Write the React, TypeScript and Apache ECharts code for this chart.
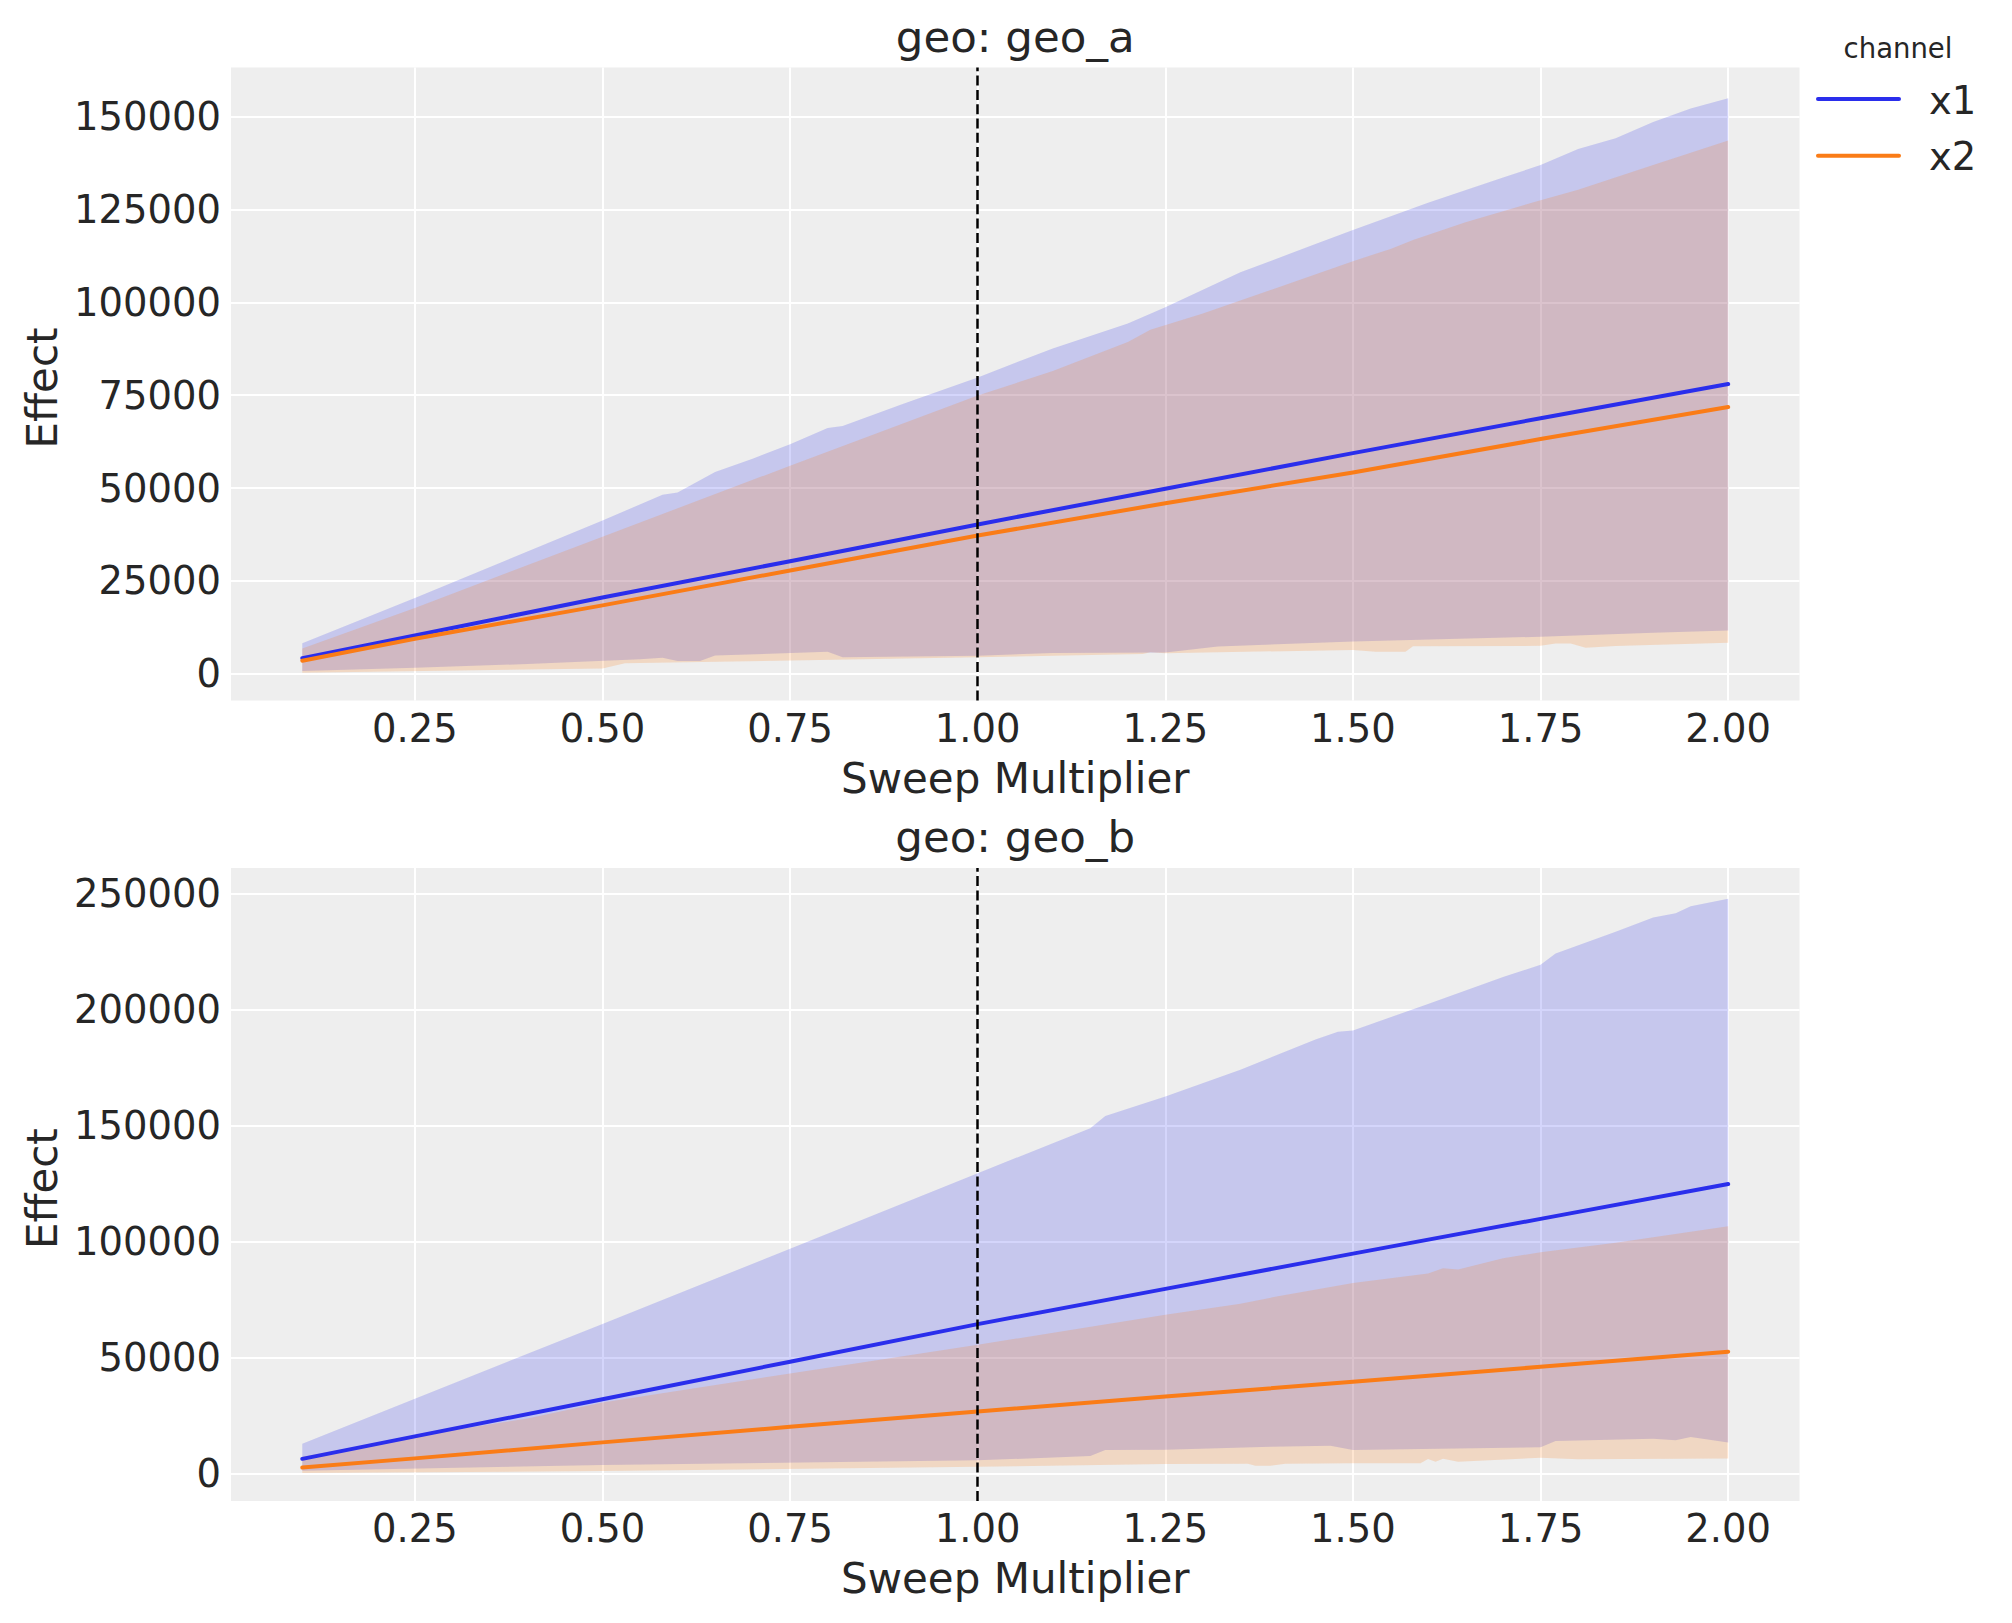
import React, { useEffect, useRef } from "react";
import * as echarts from "echarts";

// ---------- data ----------
const GEOS = ["geo_a", "geo_b"];
const CHANNELS = ["x1", "x2"];
const X_TICKS = [0.25, 0.5, 0.75, 1.0, 1.25, 1.5, 1.75, 2.0];
const Y_TICKS_A = [0, 25000, 50000, 75000, 100000, 125000, 150000];
const Y_TICKS_B = [0, 50000, 100000, 150000, 200000, 250000];
const REFERENCE_MULTIPLIER = 1.0;
const X_RANGE = [0.005, 2.095];
const Y_RANGE_A = [-7220, 163280];
const Y_RANGE_B = [-11780, 261210];

// geo_a
const geoA_x1_mean = [[0.1, 4200], [0.25, 10300], [0.5, 20500], [0.75, 30300], [1.0, 40200], [1.25, 49800], [1.5, 59400], [1.75, 68800], [2.0, 78000]];
const geoA_x2_mean = [[0.1, 3500], [0.25, 9400], [0.5, 18400], [0.75, 27800], [1.0, 37200], [1.25, 45900], [1.5, 54200], [1.75, 63200], [2.0, 71800]];
const geoA_x1_upper = [[0.1, 8200], [0.25, 20400], [0.5, 41250], [0.58, 48200], [0.6, 48800], [0.65, 54300], [0.7, 57900], [0.75, 61800], [0.8, 66200], [0.82, 66700], [0.9, 72600], [1.0, 79800], [1.1, 87600], [1.2, 94300], [1.25, 98700], [1.35, 108100], [1.45, 115700], [1.5, 119500], [1.6, 126800], [1.7, 133600], [1.75, 137000], [1.8, 141300], [1.85, 144200], [1.9, 148600], [1.95, 152200], [2.0, 155000]];
const geoA_x1_lower = [[0.1, 720], [0.25, 1600], [0.4, 2600], [0.55, 3900], [0.58, 4300], [0.6, 3400], [0.63, 3400], [0.65, 4900], [0.8, 5900], [0.82, 4400], [1.0, 4800], [1.1, 5600], [1.25, 5700], [1.32, 7300], [1.5, 8700], [1.75, 9950], [1.9, 11000], [2.0, 11600]];
const geoA_x2_upper = [[0.1, 6800], [0.25, 17700], [0.5, 36900], [0.75, 56000], [1.0, 74900], [1.1, 81500], [1.2, 89300], [1.23, 92600], [1.3, 97000], [1.4, 104000], [1.5, 111100], [1.55, 114400], [1.58, 116800], [1.65, 121600], [1.75, 127500], [1.8, 130300], [1.9, 137000], [2.0, 143600]];
const geoA_x2_lower = [[0.1, 270], [0.5, 1430], [0.53, 2800], [1.0, 4400], [1.22, 5300], [1.23, 5800], [1.25, 5500], [1.5, 6400], [1.53, 5900], [1.57, 5900], [1.58, 7400], [1.75, 7500], [1.77, 8150], [1.79, 8150], [1.81, 7000], [1.85, 7450], [2.0, 8300]];

// geo_b
const geoB_x1_mean = [[0.1, 6400], [0.25, 16100], [0.5, 32100], [0.75, 48300], [1.0, 64500], [1.25, 79700], [1.5, 94900], [1.75, 109900], [2.0, 124900]];
const geoB_x2_mean = [[0.1, 2660], [0.25, 6600], [0.5, 13500], [0.75, 20200], [1.0, 26800], [1.25, 33300], [1.5, 39600], [1.75, 46100], [2.0, 52600]];
const geoB_x1_upper = [[0.1, 12960], [0.25, 32300], [0.5, 64600], [0.75, 97000], [1.0, 129600], [1.15, 149000], [1.17, 154300], [1.25, 162700], [1.35, 174200], [1.45, 187200], [1.48, 190600], [1.5, 191100], [1.6, 202600], [1.7, 214200], [1.75, 219500], [1.77, 224300], [1.85, 233700], [1.9, 239900], [1.93, 241700], [1.95, 244700], [2.0, 247900]];
const geoB_x1_lower = [[0.1, 1290], [0.5, 3700], [1.0, 5750], [1.15, 7600], [1.17, 10200], [1.25, 10350], [1.39, 11650], [1.47, 12100], [1.5, 10200], [1.75, 11360], [1.77, 14100], [1.9, 15100], [1.93, 14400], [1.95, 15800], [2.0, 13500]];
const geoB_x2_upper = [[0.1, 7300], [0.25, 16200], [0.4, 23800], [0.5, 30700], [0.75, 43200], [1.0, 55600], [1.25, 68500], [1.35, 73300], [1.4, 76500], [1.5, 82200], [1.6, 86300], [1.62, 88600], [1.64, 88100], [1.7, 92900], [1.75, 95500], [1.85, 99600], [2.0, 106700]];
const geoB_x2_lower = [[0.1, 290], [0.5, 1150], [1.0, 3000], [1.25, 4170], [1.36, 4300], [1.37, 3450], [1.39, 3450], [1.41, 4300], [1.5, 4460], [1.59, 4460], [1.6, 6300], [1.61, 5200], [1.62, 6450], [1.64, 5200], [1.75, 6900], [1.8, 6200], [2.0, 6600]];

// ---------- style ----------
const FONT = "DejaVu Sans";
const TEXT = "#262626";
const COLORS = ["#2a2eec", "#fa7c17"];
const BAND_COLORS = ["rgba(42,46,236,0.2)", "rgba(250,124,23,0.2)"];
const PLOT_BG = "#eeeeee";

const GRIDS = [
  { left: 231, top: 67.4, width: 1568.5, height: 633.1 },
  { left: 231, top: 868.0, width: 1568.5, height: 633.0 },
];

type Pt = number[];

function bandSeries(upper: Pt[], lower: Pt[], color: string, g: number) {
  return {
    type: "custom",
    xAxisIndex: g,
    yAxisIndex: g,
    z: 2,
    silent: true,
    data: [[upper[0][0], upper[0][1]]],
    renderItem: (_params: any, api: any) => {
      const pts = upper
        .map((p) => api.coord(p))
        .concat(lower.slice().reverse().map((p) => api.coord(p)));
      return { type: "polygon", shape: { points: pts }, style: { fill: color } };
    },
  };
}

function lineSeries(name: string, data: Pt[], color: string, g: number) {
  return {
    name,
    type: "line",
    xAxisIndex: g,
    yAxisIndex: g,
    z: 3,
    silent: true,
    data,
    symbol: "none",
    showSymbol: false,
    lineStyle: { color, width: 4, cap: "round", join: "round" },
  };
}

function gridLines(g: number, yTicks: number[]) {
  return {
    type: "line",
    xAxisIndex: g,
    yAxisIndex: g,
    data: [],
    z: 1,
    silent: true,
    markLine: {
      silent: true,
      z: 1,
      symbol: ["none", "none"],
      label: { show: false },
      lineStyle: { color: "#ffffff", width: 2, type: "solid" },
      emphasis: { disabled: true },
      data: [...X_TICKS.map((v) => ({ xAxis: v })), ...yTicks.map((v) => ({ yAxis: v }))],
    },
  };
}

function refLine(g: number) {
  return {
    type: "line",
    xAxisIndex: g,
    yAxisIndex: g,
    data: [],
    z: 5,
    silent: true,
    markLine: {
      silent: true,
      z: 5,
      symbol: ["none", "none"],
      label: { show: false },
      lineStyle: { color: "#000000", width: 2.5, type: [10, 4.3] },
      emphasis: { disabled: true },
      data: [{ xAxis: REFERENCE_MULTIPLIER }],
    },
  };
}

function xAxis(g: number) {
  return {
    type: "value",
    gridIndex: g,
    min: X_RANGE[0],
    max: X_RANGE[1],
    axisLine: { show: false },
    axisTick: { show: false },
    splitLine: { show: false },
    axisLabel: {
      customValues: X_TICKS,
      formatter: (v: number) => v.toFixed(2),
      fontSize: 38.5,
      fontFamily: FONT,
      color: TEXT,
      margin: 8,
    },
  };
}

function yAxis(g: number, range: number[], ticks: number[]) {
  return {
    type: "value",
    gridIndex: g,
    min: range[0],
    max: range[1],
    axisLine: { show: false },
    axisTick: { show: false },
    splitLine: { show: false },
    axisLabel: {
      customValues: ticks,
      formatter: (v: number) => String(Math.round(v)),
      fontSize: 38.5,
      fontFamily: FONT,
      color: TEXT,
      margin: 10,
    },
  };
}

function textEl(text: string, x: number, y: number, size: number, align = "center", rotation = 0) {
  return {
    type: "text",
    x,
    y,
    rotation,
    silent: true,
    style: {
      text,
      fontSize: size,
      fontFamily: FONT,
      fill: TEXT,
      align,
      verticalAlign: "middle",
    },
  };
}

export default function App() {
  const ref = useRef<HTMLDivElement>(null);

  useEffect(() => {
    if (!ref.current) return;
    const chart = echarts.init(ref.current, undefined, { renderer: "svg" });

    const offsetB = GRIDS[1].top - GRIDS[0].top;
    const cx = GRIDS[0].left + GRIDS[0].width / 2;

    const graphic: any[] = [
      textEl("geo: " + GEOS[0], cx, 36.7, 43.5),
      textEl("geo: " + GEOS[1], cx, 36.7 + offsetB, 43.5),
      textEl("Sweep Multiplier", cx, 778.2, 42),
      textEl("Sweep Multiplier", cx, 778.2 + offsetB, 42),
      textEl("Effect", 42.2, 388, 42, "center", Math.PI / 2),
      textEl("Effect", 42.2, 388 + offsetB, 42, "center", Math.PI / 2),
      textEl("channel", 1898, 47.8, 27.5),
    ];
    CHANNELS.forEach((c, i) => {
      const y = 99 + i * 56.7;
      graphic.push({
        type: "line",
        silent: true,
        shape: { x1: 1818, y1: y, x2: 1899, y2: y },
        style: { stroke: COLORS[i], lineWidth: 4, lineCap: "round" },
      });
      graphic.push(textEl(c, 1929, y + 1, 38.5, "left"));
    });

    const option: any = {
      animation: false,
      textStyle: { fontFamily: FONT },
      grid: GRIDS.map((g) => ({
        ...g,
        show: true,
        backgroundColor: PLOT_BG,
        borderWidth: 0,
        containLabel: false,
      })),
      xAxis: [xAxis(0), xAxis(1)],
      yAxis: [yAxis(0, Y_RANGE_A, Y_TICKS_A), yAxis(1, Y_RANGE_B, Y_TICKS_B)],
      series: [
        gridLines(0, Y_TICKS_A),
        gridLines(1, Y_TICKS_B),
        bandSeries(geoA_x1_upper, geoA_x1_lower, BAND_COLORS[0], 0),
        bandSeries(geoA_x2_upper, geoA_x2_lower, BAND_COLORS[1], 0),
        bandSeries(geoB_x1_upper, geoB_x1_lower, BAND_COLORS[0], 1),
        bandSeries(geoB_x2_upper, geoB_x2_lower, BAND_COLORS[1], 1),
        lineSeries(CHANNELS[0], geoA_x1_mean, COLORS[0], 0),
        lineSeries(CHANNELS[1], geoA_x2_mean, COLORS[1], 0),
        lineSeries(CHANNELS[0], geoB_x1_mean, COLORS[0], 1),
        lineSeries(CHANNELS[1], geoB_x2_mean, COLORS[1], 1),
        refLine(0),
        refLine(1),
      ],
      graphic,
    };
    chart.setOption(option);
    return () => chart.dispose();
  }, []);

  return (
    <div
      ref={ref}
      style={{ position: "absolute", left: 0, top: 0, width: 2012, height: 1623, background: "#ffffff" }}
    />
  );
}
